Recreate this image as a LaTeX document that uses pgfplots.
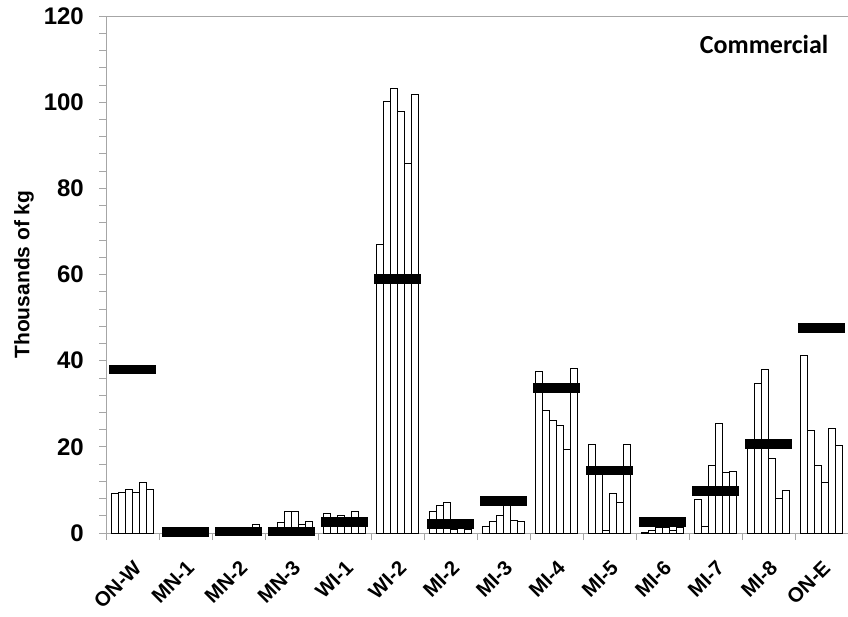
\documentclass[border=0pt]{standalone}
\usepackage{fontspec}
\setmainfont{Liberation Sans}
\newfontfamily\calibri{Carlito}
\usepackage{pgfplots}
\usepackage{pgfplotstable}
\pgfplotsset{compat=1.18}
\pgfplotstableread{
x b1 b2 b3 b4 b5 b6 m
0 9.1 9.4 10.2 9.5 11.7 10.1 38.0
1 0.3 0.3 0.3 0.3 0.3 0.3 0.2
2 0.3 0.3 0.3 0.5 1.3 2.0 0.3
3 1.0 2.4 5.1 5.1 2.0 2.6 0.3
4 4.6 3.0 4.0 3.2 5.1 3.0 2.5
5 67.0 100.1 103.2 97.8 85.9 101.8 59.0
6 5.0 6.3 7.0 0.8 1.0 0.9 2.1
7 1.55 2.7 4.1 6.5 2.9 2.7 7.4
8 37.5 28.4 26.2 25.0 19.4 38.1 33.6
9 20.5 14.0 0.5 9.2 7.1 20.5 14.5
10 0.1 0.5 1.2 1.2 0.5 1.3 2.5
11 7.9 1.6 15.6 25.5 14.1 14.3 9.8
12 20.0 34.7 38.0 17.3 8.0 9.8 20.7
13 41.3 23.9 15.6 11.7 24.3 20.4 47.6
}\datatable
\begin{document}
\begin{tikzpicture}
\path[use as bounding box] (-106pt,-83pt) rectangle (742pt,533pt);
\begin{axis}[
  scale only axis,
  width=742pt, height=517pt,
  xmin=-0.5, xmax=13.5,
  ymin=0, ymax=120,
  axis x line*=bottom, axis y line*=left,
  axis line style={gray!70, line width=0.8pt},
  tick align=outside,
  tick style={gray!70, line width=0.8pt},
  major tick length=7pt, minor tick length=7pt,
  ytick={0,20,...,120},
  minor y tick num=4,
  yticklabel={\pgfmathprintnumber{\tick}\hspace*{15pt}},
  xtick={-0.5,0.5,...,13.5},
  x tick label as interval,
  xticklabels={ON-W,MN-1,MN-2,MN-3,WI-1,WI-2,MI-2,MI-3,MI-4,MI-5,MI-6,MI-7,MI-8,ON-E},
  yticklabel style={font=\bfseries\fontsize{24}{24}\selectfont, inner sep=0pt},
  xticklabel style={font=\bfseries\fontsize{20.5}{20.5}\selectfont, rotate=45, anchor=north east, inner sep=0pt},
  xticklabel shift=19pt,
  every axis y label/.style={at={(axis description cs:-0.1105,0.5)}, rotate=90, anchor=center},
  ylabel={\bfseries\fontsize{21}{21}\selectfont Thousands of kg},
  clip=false,
  /pgf/number format/assume math mode=true,
]
\addplot[ybar, bar width=7.1pt, bar shift=-17.75pt, fill=white, draw=black, line width=0.8pt] table[x=x, y=b1] {\datatable};
\addplot[ybar, bar width=7.1pt, bar shift=-10.65pt, fill=white, draw=black, line width=0.8pt] table[x=x, y=b2] {\datatable};
\addplot[ybar, bar width=7.1pt, bar shift=-3.55pt, fill=white, draw=black, line width=0.8pt] table[x=x, y=b3] {\datatable};
\addplot[ybar, bar width=7.1pt, bar shift=3.55pt, fill=white, draw=black, line width=0.8pt] table[x=x, y=b4] {\datatable};
\addplot[ybar, bar width=7.1pt, bar shift=10.65pt, fill=white, draw=black, line width=0.8pt] table[x=x, y=b5] {\datatable};
\addplot[ybar, bar width=7.1pt, bar shift=17.75pt, fill=white, draw=black, line width=0.8pt] table[x=x, y=b6] {\datatable};
\addplot[only marks, mark=none,
  error bars/.cd, x dir=both, x fixed=0.45, error mark=none,
  error bar style={draw=black, line width=9.5pt}]
  table[x=x, y=m] {\datatable};
\draw[gray!70, line width=0.8pt] (rel axis cs:0,1) -- (rel axis cs:1,1);
\node[font=\calibri\bfseries\fontsize{26}{26}\selectfont] at (rel axis cs:0.887,0.944) {Commercial};
\end{axis}
\end{tikzpicture}
\end{document}
